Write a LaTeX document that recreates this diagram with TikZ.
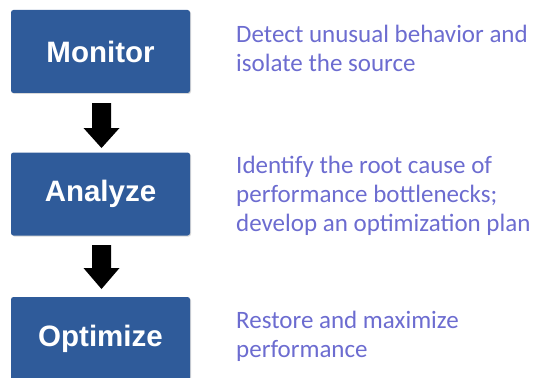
\documentclass[tikz,border=0pt]{standalone}
\usepackage{fontspec}
\usetikzlibrary{shadows}
\setmainfont{Liberation Sans}
\newfontfamily\descfont{Carlito}
\definecolor{boxblue}{RGB}{47,91,154}
\definecolor{desccol}{RGB}{108,108,208}
\begin{document}
\begin{tikzpicture}[x=1pt,y=-1pt,
  stepbox/.style={fill=boxblue, rounded corners=2.5pt, minimum width=179pt, minimum height=83pt,
     inner sep=0pt, text=white, font=\fontsize{29.5}{31}\selectfont\bfseries,
     drop shadow={shadow xshift=1pt, shadow yshift=-1pt, fill=black!25, opacity=0.6}},
  desc/.style={anchor=base west, inner sep=0pt, text=desccol, align=left,
     font=\descfont\fontsize{25}{29}\selectfont},
  arrowfill/.style={fill=black}]
\useasboundingbox (0,0) rectangle (537,377);
\node[stepbox] (mon) at (100.5,51.5) {Monitor};
\node[stepbox] (ana) at (100.5,194) {Analyze};
\node[stepbox] (opt) at (100.5,338.5) {Optimize};
\coordinate (a1top) at (101.5,103);
\coordinate (a1bot) at (101.5,148);
\coordinate (a2top) at (101.5,245);
\coordinate (a2bot) at (101.5,289);
\fill[arrowfill] ([xshift=-9.5pt]a1top) -- ([xshift=9.5pt]a1top) -- ([xshift=9.5pt,yshift=-25pt]a1top)
  -- ([xshift=18pt,yshift=-25pt]a1top) -- (a1bot) -- ([xshift=-18pt,yshift=-25pt]a1top)
  -- ([xshift=-9.5pt,yshift=-25pt]a1top) -- cycle;
\fill[arrowfill] ([xshift=-9.5pt]a2top) -- ([xshift=9.5pt]a2top) -- ([xshift=9.5pt,yshift=-23pt]a2top)
  -- ([xshift=18pt,yshift=-23pt]a2top) -- (a2bot) -- ([xshift=-18pt,yshift=-23pt]a2top)
  -- ([xshift=-9.5pt,yshift=-23pt]a2top) -- cycle;
\node[desc] (d1) at (236,72) {Detect unusual behavior and\\isolate the source};
\node[desc] (d2) at (236,231) {Identify the root cause of\\performance bottlenecks;\\develop an optimization plan};
\node[desc] (d3) at (236,357) {Restore and maximize\\performance};
\end{tikzpicture}
\end{document}
